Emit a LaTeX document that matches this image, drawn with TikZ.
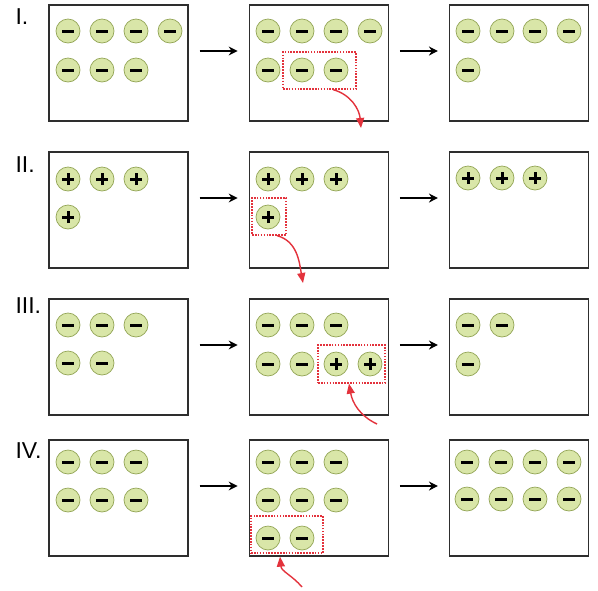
\documentclass[tikz,border=0pt]{standalone}
\usepackage{fontspec}
\setmainfont{Liberation Sans}
\usetikzlibrary{arrows.meta,positioning}
\definecolor{ChargeFill}{HTML}{D9E6A8}
\definecolor{ChargeRim}{HTML}{93A556}
\definecolor{PickRed}{HTML}{E3323C}
\definecolor{PanelGray}{HTML}{2E2E2E}

\tikzset{
  panel/.style={draw=PanelGray,line width=1.3pt,minimum width=139pt,minimum height=116pt,inner sep=0pt},
  charge/.style={circle,draw=ChargeRim,fill=ChargeFill,line width=0.7pt,minimum size=24pt,inner sep=0pt},
  minus/.style={charge,path picture={
    \draw[black,line width=3pt] ([xshift=-6pt]path picture bounding box.center) -- ([xshift=6pt]path picture bounding box.center);}},
  plus/.style={charge,path picture={
    \draw[black,line width=3pt] ([xshift=-6pt]path picture bounding box.center) -- ([xshift=6pt]path picture bounding box.center)
      ([yshift=-6pt]path picture bounding box.center) -- ([yshift=6pt]path picture bounding box.center);}},
  pick/.style={draw=PickRed,line width=1.3pt,dash pattern=on 1.6pt off 1.3pt,inner sep=0pt},
  flow/.style={-{Stealth[length=9pt,width=9pt]},line width=1.2pt,shorten <=11pt,shorten >=11pt},
  pull/.style={-{Triangle[length=10pt,width=8pt]},PickRed,line width=1.4pt},
  roman/.style={anchor=base west,font=\fontsize{23}{23}\selectfont}
}

\begin{document}
\begin{tikzpicture}[x=1pt,y=-1pt,node distance=60pt]
  \useasboundingbox (0,0) rectangle (598,590);

  % row labels
  \node[roman] (lab1) at (12,24) {I.};
  \node[roman] (lab2) at (12,172) {II.};
  \node[roman] (lab3) at (12,313) {III.};
  \node[roman] (lab4) at (12,458) {IV.};

  % panels
  \node[panel] (before1) at (118.5,63) {};
  \node[panel,right=of before1] (during1) {};
  \node[panel,right=of during1] (after1) {};
  \node[panel] (before2) at (118.5,210) {};
  \node[panel,right=of before2] (during2) {};
  \node[panel,right=of during2] (after2) {};
  \node[panel] (before3) at (118.5,357) {};
  \node[panel,right=of before3] (during3) {};
  \node[panel,right=of during3] (after3) {};
  \node[panel] (before4) at (118.5,498) {};
  \node[panel,right=of before4] (during4) {};
  \node[panel,right=of during4] (after4) {};

  % I.
  \foreach \x [count=\i] in {68,102,136,170} \node[minus] (q1a\i) at (\x,31) {};
  \foreach \x [count=\i] in {68,102,136} \node[minus] (q1b\i) at (\x,70) {};
  \foreach \x [count=\i] in {268,302,336,370} \node[minus] (q1c\i) at (\x,31) {};
  \foreach \x [count=\i] in {268,302,336} \node[minus] (q1d\i) at (\x,70) {};
  \foreach \x [count=\i] in {468,502,535,569} \node[minus] (q1e\i) at (\x,31) {};
  \node[minus] (q1f1) at (468,70) {};
  \node[pick,minimum width=73pt,minimum height=37pt] (sel1) at (319.5,70.5) {};

  % II.
  \foreach \x [count=\i] in {68,102,136} \node[plus] (q2a\i) at (\x,179) {};
  \node[plus] (q2b1) at (68,217) {};
  \foreach \x [count=\i] in {268,302,336} \node[plus] (q2c\i) at (\x,179) {};
  \node[plus] (q2d1) at (268,217) {};
  \foreach \x [count=\i] in {468,502,535} \node[plus] (q2e\i) at (\x,178) {};
  \node[pick,minimum width=34pt,minimum height=37pt] (sel2) at (269,216.5) {};

  % III.
  \foreach \x [count=\i] in {68,102,136} \node[minus] (q3a\i) at (\x,325) {};
  \foreach \x [count=\i] in {68,102} \node[minus] (q3b\i) at (\x,363) {};
  \foreach \x [count=\i] in {268,302,336} \node[minus] (q3c\i) at (\x,325) {};
  \foreach \x [count=\i] in {268,302} \node[minus] (q3d\i) at (\x,364) {};
  \foreach \x [count=\i] in {336,370} \node[plus] (q3p\i) at (\x,364) {};
  \foreach \x [count=\i] in {468,502} \node[minus] (q3e\i) at (\x,325) {};
  \node[minus] (q3f1) at (468,364) {};
  \node[pick,minimum width=67pt,minimum height=38pt] (sel3) at (351.5,364) {};

  % IV.
  \foreach \x [count=\i] in {68,102,136} \node[minus] (q4a\i) at (\x,462) {};
  \foreach \x [count=\i] in {68,102,136} \node[minus] (q4b\i) at (\x,500) {};
  \foreach \x [count=\i] in {268,302,336} \node[minus] (q4c\i) at (\x,462) {};
  \foreach \x [count=\i] in {268,302,336} \node[minus] (q4d\i) at (\x,500) {};
  \foreach \x [count=\i] in {268,302} \node[minus] (q4g\i) at (\x,538) {};
  \foreach \x [count=\i] in {467,501,535,569} \node[minus] (q4e\i) at (\x,462) {};
  \foreach \x [count=\i] in {467,501,535,569} \node[minus] (q4f\i) at (\x,499) {};
  \node[pick,minimum width=72pt,minimum height=37pt] (sel4) at (287,534.5) {};

  % arrows between panels
  \foreach \r in {1,2,3,4} {
    \draw[flow] ([yshift=12pt]before\r.east) -- ([yshift=12pt]during\r.west);
    \draw[flow] ([yshift=12pt]during\r.east) -- ([yshift=12pt]after\r.west);
  }

  % red arrows
  \coordinate (out1) at (361,128);
  \coordinate (out2) at (303,283);
  \coordinate (in3) at (377,424);
  \coordinate (in4) at (302,587);
  \draw[pull] ([xshift=13.5pt]sel1.south) to[out=-15,in=95] (out1);
  \draw[pull] ([xshift=8pt]sel2.south) to[out=-15,in=100] (out2);
  \draw[pull] (in3) to[out=155,in=-80] ([xshift=-2.5pt]sel3.south);
  \draw[pull] (in4) to[out=130,in=-85] ([xshift=-7pt,yshift=-3pt]sel4.south);
\end{tikzpicture}
\end{document}
